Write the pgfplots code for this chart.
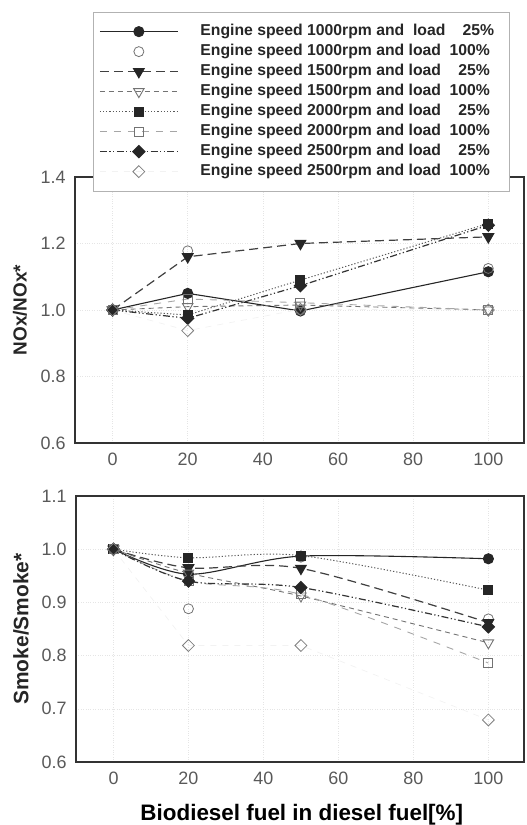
\documentclass[border=0pt]{standalone}
\usepackage{fontspec}
\setmainfont{Liberation Sans}
\usepackage{pgfplots}
\pgfplotsset{compat=1.18}
\newcommand{\pc}[1]{\makebox[3.1em][r]{#1}\hspace*{8bp}}
\pgfplotsset{
 s1/.style={color=black!85, solid, line width=1.1bp, mark=*, mark size=5bp, mark options={solid, fill=black!85}},
 s2/.style={color=black!55, only marks, mark=o, mark size=5bp, mark options={solid, line width=0.8bp}},
 s3/.style={color=black!75, line width=1.2bp, dash pattern=on 9bp off 5bp, mark=triangle*, mark size=6bp, mark options={solid, rotate=180, fill=black!85, draw=black!85}},
 s4/.style={color=black!55, line width=0.9bp, dash pattern=on 5bp off 4bp, mark=triangle, mark size=6bp, mark options={solid, rotate=180}},
 s5/.style={color=black!65, line width=1bp, dash pattern=on 1.2bp off 2bp, mark=square*, mark size=4.5bp, mark options={solid, fill=black!85, draw=black!85}},
 s6/.style={color=black!35, line width=0.9bp, dash pattern=on 7bp off 7bp, mark=square, mark size=4.5bp, mark options={solid, draw=black!55}},
 s7/.style={color=black!80, line width=1.2bp, dash pattern=on 7bp off 2.5bp on 1.2bp off 2.5bp on 1.2bp off 2.5bp, mark=square*, mark size=4.2bp, mark options={solid, rotate=45, fill=black!85, draw=black!85}},
 s8/.style={color=black!5, line width=0.7bp, dash pattern=on 6bp off 6bp, mark=square, mark size=4.2bp, mark options={solid, rotate=45, draw=black!50, line width=0.8bp}},
 myaxis/.style={
   scale only axis, xmin=-10, xmax=109.5,
   xtick={0,20,40,60,80,100},
   axis line style={black!80, line width=1.2bp},
   major tick length=0pt,
   grid=major, grid style={black!10, dotted, line width=0.6bp},
   tick label style={font=\fontsize{18}{20}\selectfont, text=black!65},
   /pgf/number format/assume math mode=true,
   yticklabel style={/pgf/number format/fixed, /pgf/number format/fixed zerofill, /pgf/number format/precision=1, xshift=-6bp},
   xticklabel style={yshift=-6bp},
   clip=false,
 },
}
\begin{document}
\begin{tikzpicture}
\useasboundingbox (0,0) rectangle (527bp,825bp);
% ---------- top: NOx ----------
\begin{axis}[myaxis,
  at={(75bp,382bp)}, anchor=south west,
  width=449bp, height=266bp,
  ymin=0.6, ymax=1.4, ytick={0.6,0.8,1.0,1.2,1.4},
  ylabel={NOx/NOx*},
  ylabel style={at={(axis description cs:-0.1225,0.5)}, anchor=center, font=\fontsize{19}{21}\selectfont\bfseries, text=black!85},
  legend image code/.code={\draw[mark repeat=2,mark phase=2,#1] plot coordinates {(0bp,0bp) (39bp,0bp) (78bp,0bp)};},
  legend style={at={(axis description cs:0.04,1.62)}, anchor=north west,
    draw=black!30, line width=0.6bp, fill=white,
    font=\fontsize{15.8}{18}\selectfont\bfseries, text=black!85,
    cells={anchor=west}, row sep=2.5bp,
    inner xsep=6bp, inner ysep=10.5bp,
    nodes={inner sep=1bp, text height=11.5bp, text depth=4bp},
    /tikz/every odd column/.append style={column sep=21bp}},
]
\addplot[s1] coordinates {(0,1.0) (20,1.05) (50,0.997) (100,1.115)};
\addlegendentry{Engine speed 1000rpm and\ \ load\pc{25\%}}
\addplot[s2] coordinates {(0,1.0) (20,1.178) (50,1.0) (100,1.125)};
\addlegendentry{Engine speed 1000rpm and load\pc{100\%}}
\addplot[s3] coordinates {(0,1.0) (20,1.16) (50,1.2) (100,1.22)};
\addlegendentry{Engine speed 1500rpm and load\pc{25\%}}
\addplot[s4] coordinates {(0,1.0) (20,1.01) (50,1.015) (100,1.0)};
\addlegendentry{Engine speed 1500rpm and load\pc{100\%}}
\addplot[s5] coordinates {(0,1.0) (20,0.985) (50,1.09) (100,1.26)};
\addlegendentry{Engine speed 2000rpm and load\pc{25\%}}
\addplot[s6] coordinates {(0,1.0) (20,1.033) (50,1.022) (100,1.0)};
\addlegendentry{Engine speed 2000rpm and load\pc{100\%}}
\addplot[s7] coordinates {(0,1.0) (20,0.975) (50,1.073) (100,1.255)};
\addlegendentry{Engine speed 2500rpm and load\pc{25\%}}
\addplot[s8] coordinates {(0,1.0) (20,0.938) (50,1.002) (100,1.0)};
\addlegendentry{Engine speed 2500rpm and load\pc{100\%}}
\end{axis}
% ---------- bottom: Smoke ----------
\begin{axis}[myaxis,
  at={(76bp,63bp)}, anchor=south west,
  width=448bp, height=266bp,
  ymin=0.6, ymax=1.1, ytick={0.6,0.7,0.8,0.9,1.0,1.1},
  ylabel={Smoke/Smoke*},
  ylabel style={at={(axis description cs:-0.1228,0.5)}, anchor=center, font=\fontsize{21}{23}\selectfont\bfseries, text=black!85},
  xlabel={Biodiesel fuel in diesel fuel[\%]},
  xlabel style={at={(axis description cs:0.504,-0.2)}, anchor=center, font=\fontsize{22.5}{25}\selectfont\bfseries, text=black},
]
\addplot[s1, smooth] coordinates {(0,1.0) (20,0.953) (50,0.987) (100,0.982)};
\addplot[s2] coordinates {(0,1.0) (20,0.888) (50,0.985) (100,0.869)};
\addplot[s3, smooth] coordinates {(0,1.0) (20,0.965) (50,0.964) (100,0.862)};
\addplot[s4, smooth] coordinates {(0,1.0) (20,0.955) (50,0.912) (100,0.824)};
\addplot[s5, smooth] coordinates {(0,1.0) (20,0.984) (50,0.988) (100,0.923)};
\addplot[s6, smooth] coordinates {(0,1.0) (20,0.94) (50,0.915) (100,0.786)};
\addplot[s7, smooth] coordinates {(0,1.0) (20,0.94) (50,0.928) (100,0.854)};
\addplot[s8] coordinates {(0,1.0) (20,0.819) (50,0.819) (100,0.679)};
\end{axis}
\end{tikzpicture}
\end{document}
